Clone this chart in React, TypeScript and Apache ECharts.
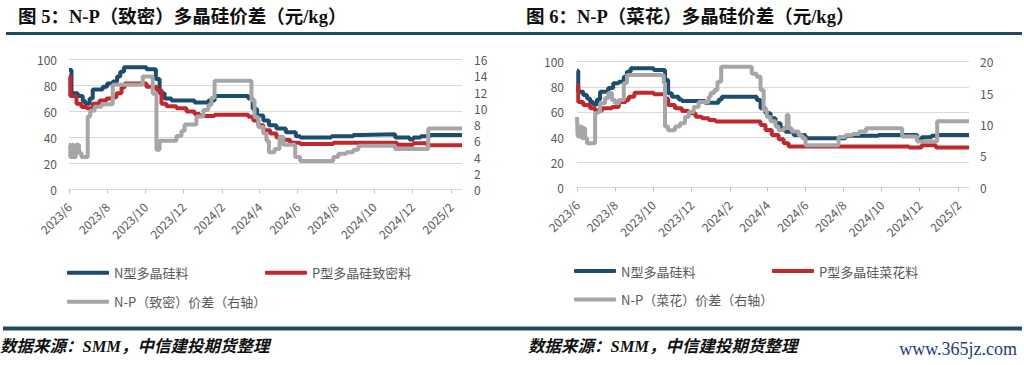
import React, { useEffect, useRef } from 'react';
import * as echarts from 'echarts';

// ---------- data ----------
const tickDates = [
  '2023-06-01', '2023-08-01', '2023-10-01', '2023-12-01', '2024-02-01', '2024-04-01',
  '2024-06-01', '2024-08-01', '2024-10-01', '2024-12-01', '2025-02-01',
];
const xStart = '2023-06-01';
const xEndLeft = '2025-02-19';
const xEndRight = '2025-02-18';

const nameN = 'N型多晶硅料';
const nameP1 = 'P型多晶硅致密料';
const nameD1 = 'N-P（致密）价差（右轴）';
const nameP2 = 'P型多晶硅菜花料';
const nameD2 = 'N-P（菜花）价差（右轴）';

const title1 = '图 5：N-P（致密）多晶硅价差（元/kg）';
const title2 = '图 6：N-P（菜花）多晶硅价差（元/kg）';
const sourceText = '数据来源：SMM，中信建投期货整理';
const siteText = 'www.365jz.com';

// Figure 5 (dense)
const leftN: [string, number][] = [
  ['2023-06-01', 92], ['2023-06-05', 74], ['2023-06-15', 72], ['2023-06-23', 68], ['2023-06-27', 66],
  ['2023-07-04', 70], ['2023-07-09', 77], ['2023-07-25', 79], ['2023-08-01', 81.5], ['2023-08-10', 83],
  ['2023-08-17', 87], ['2023-08-22', 90.5], ['2023-08-28', 94], ['2023-10-03', 92.5], ['2023-10-18', 85],
  ['2023-10-24', 74], ['2023-11-01', 70], ['2023-11-12', 68.5], ['2023-12-19', 67], ['2024-01-10', 68.5],
  ['2024-01-20', 72], ['2024-03-14', 70], ['2024-03-21', 62], ['2024-03-28', 57], ['2024-04-07', 53],
  ['2024-04-16', 49.5], ['2024-04-28', 47], ['2024-05-13', 44], ['2024-05-29', 41], ['2024-06-05', 40],
  ['2024-07-25', 41], ['2024-08-29', 42], ['2024-09-09', 42.5], ['2024-11-04', 40], ['2024-11-27', 38.5],
  ['2024-12-03', 40], ['2024-12-15', 41], ['2024-12-30', 42], ['2025-02-19', 42],
];
const leftP: [string, number][] = [
  ['2023-06-01', 87], ['2023-06-03', 72], ['2023-06-13', 66], ['2023-06-21', 63.5], ['2023-06-29', 62.5],
  ['2023-07-09', 66], ['2023-07-20', 68.5], ['2023-07-31', 70], ['2023-08-08', 71], ['2023-08-16', 74],
  ['2023-08-24', 78.5], ['2023-08-29', 81.5], ['2023-10-03', 79], ['2023-10-19', 76.5], ['2023-10-27', 66],
  ['2023-11-04', 64], ['2023-11-20', 62.5], ['2023-12-06', 60], ['2023-12-19', 58], ['2023-12-27', 56.5],
  ['2024-01-20', 57.5], ['2024-03-14', 56], ['2024-03-22', 53], ['2024-03-30', 49.5], ['2024-04-07', 45.5],
  ['2024-04-18', 43], ['2024-04-28', 40], ['2024-05-09', 38], ['2024-05-20', 36], ['2024-06-05', 35],
  ['2024-07-28', 36], ['2024-11-07', 34.5], ['2024-12-03', 35.5], ['2024-12-25', 34], ['2025-02-19', 34],
];
const leftD: [string, number][] = [
  ['2023-06-01', 5.5], ['2023-06-03', 4], ['2023-06-06', 5.5], ['2023-06-08', 4], ['2023-06-12', 5.5],
  ['2023-06-17', 4.5], ['2023-06-21', 4], ['2023-07-01', 9], ['2023-07-05', 9.7], ['2023-07-12', 10.2],
  ['2023-07-23', 10.5], ['2023-08-10', 12.9], ['2023-09-27', 13.9], ['2023-10-13', 11.8], ['2023-10-19', 4.9],
  ['2023-10-24', 6], ['2023-11-20', 6.6], ['2023-11-28', 7.2], ['2023-12-03', 8], ['2023-12-22', 9],
  ['2024-01-02', 9.8], ['2024-01-10', 10.4], ['2024-01-15', 11.3], ['2024-01-20', 13.4], ['2024-03-19', 11],
  ['2024-03-24', 8.9], ['2024-03-30', 7.7], ['2024-04-07', 6.9], ['2024-04-12', 6], ['2024-04-16', 4.6],
  ['2024-04-25', 5], ['2024-05-03', 6.5], ['2024-05-09', 5.5], ['2024-05-28', 4], ['2024-06-05', 3.5],
  ['2024-07-28', 4], ['2024-08-05', 4.4], ['2024-08-18', 4.6], ['2024-08-29', 4.9], ['2024-09-06', 5.4],
  ['2024-11-04', 5], ['2024-12-27', 7.5], ['2025-02-19', 7.5],
];

// Figure 6 (cauliflower)
const rightN: [string, number][] = [
  ['2023-06-01', 92.8], ['2023-06-03', 76], ['2023-06-11', 73.5], ['2023-06-17', 70.8], ['2023-06-22', 68],
  ['2023-06-27', 66], ['2023-07-03', 70], ['2023-07-08', 76], ['2023-07-21', 79], ['2023-07-29', 82.8],
  ['2023-08-07', 84], ['2023-08-15', 88], ['2023-08-20', 92], ['2023-08-26', 94.7], ['2023-10-02', 93.4],
  ['2023-10-20', 85.4], ['2023-10-25', 74.8], ['2023-10-31', 72], ['2023-11-11', 70], ['2023-11-16', 68.7],
  ['2023-12-23', 67.4], ['2024-01-14', 70], ['2024-01-19', 72], ['2024-03-15', 69.5], ['2024-03-21', 62.9],
  ['2024-03-29', 58.9], ['2024-04-06', 55], ['2024-04-14', 51], ['2024-04-22', 47], ['2024-04-30', 44.3],
  ['2024-05-13', 41.6], ['2024-06-01', 39], ['2024-08-04', 41], ['2024-09-26', 41.6], ['2024-11-27', 37.7],
  ['2024-12-04', 39.8], ['2024-12-20', 41], ['2024-12-31', 41.6], ['2025-02-18', 41.6],
];
const rightP: [string, number][] = [
  ['2023-06-01', 81.4], ['2023-06-03', 68], ['2023-06-11', 65.5], ['2023-06-22', 62.9], ['2023-06-30', 61],
  ['2023-07-11', 62.9], ['2023-07-27', 64], ['2023-08-07', 68], ['2023-08-18', 69.5], ['2023-08-23', 72],
  ['2023-09-01', 75.3], ['2023-10-02', 74], ['2023-10-20', 70.8], ['2023-10-25', 65.5], ['2023-11-05', 62.9],
  ['2023-11-16', 60.7], ['2023-11-27', 58.9], ['2023-12-08', 56.2], ['2023-12-18', 55], ['2023-12-29', 53.6],
  ['2024-01-09', 52.3], ['2024-03-21', 49.6], ['2024-03-29', 45.6], ['2024-04-08', 41.6], ['2024-04-19', 38.2],
  ['2024-04-27', 35], ['2024-05-05', 32.4], ['2024-11-14', 31.6], ['2024-12-04', 33.5], ['2024-12-27', 31.6],
  ['2025-02-18', 31.6],
];
const rightD: [string, number][] = [
  ['2023-06-01', 11.2], ['2023-06-02', 8.1], ['2023-06-06', 9.7], ['2023-06-09', 7.8], ['2023-06-11', 9.4],
  ['2023-06-14', 7.8], ['2023-06-17', 7], ['2023-06-30', 11.8], ['2023-07-04', 12], ['2023-07-08', 13.4],
  ['2023-07-16', 14.2], ['2023-07-21', 15], ['2023-07-27', 13.9], ['2023-08-01', 13.4], ['2023-08-07', 13.9],
  ['2023-08-15', 16.6], ['2023-08-20', 17.9], ['2023-10-18', 16.6], ['2023-10-20', 9.7], ['2023-10-25', 9.1],
  ['2023-11-05', 9.7], ['2023-11-13', 10.2], ['2023-11-21', 11.2], ['2023-11-27', 12], ['2023-12-05', 12.8],
  ['2023-12-13', 13.6], ['2023-12-29', 14.4], ['2024-01-01', 15], ['2024-01-07', 15.5], ['2024-01-12', 16.8],
  ['2024-01-18', 19.2], ['2024-03-07', 18.1], ['2024-03-15', 17.6], ['2024-03-21', 15.5], ['2024-03-26', 12.3],
  ['2024-03-31', 11.2], ['2024-04-06', 10.5], ['2024-04-14', 9.7], ['2024-04-19', 9.1], ['2024-04-27', 9.4],
  ['2024-05-02', 11.5], ['2024-05-05', 9.4], ['2024-05-10', 8.9], ['2024-05-21', 8.3], ['2024-05-27', 7.8],
  ['2024-06-01', 6.7], ['2024-07-24', 8], ['2024-08-04', 8.3], ['2024-08-15', 8.5], ['2024-08-26', 8.9],
  ['2024-09-06', 9.4], ['2024-11-03', 8.1], ['2024-11-27', 7.3], ['2024-12-29', 10.5], ['2025-02-18', 10.5],
];

// ---------- helpers ----------
function ts(s: string): number {
  const [y, m, d] = s.split('-').map(Number);
  return Date.UTC(y, m - 1, d);
}
const toXY = (arr: [string, number][]) => arr.map(([d, v]) => [ts(d), v]);

const FONT = "'Noto Sans CJK SC', 'Noto Sans', sans-serif";
const C_N = '#1b4d6e';
const C_P = '#c1272d';
const C_D = '#a6a6a6';
const C_BAR = '#1f4b5e';
const C_TXT = '#595959';

function xAxisCfg(gridIndex: number, max: string) {
  const ticks = tickDates.map(ts);
  return {
    type: 'value',
    gridIndex,
    min: ts(xStart),
    max: ts(max),
    axisLine: { show: true, lineStyle: { color: '#d9d9d9', width: 1 } },
    axisTick: { show: true, customValues: ticks, length: 4, lineStyle: { color: '#bfbfbf' } },
    splitLine: { show: false },
    axisLabel: {
      customValues: ticks,
      rotate: 45,
      margin: 15,
      color: C_TXT,
      fontSize: 12,
      fontFamily: FONT,
      formatter: (v: number) => {
        const d = new Date(v);
        return d.getUTCFullYear() + '/' + (d.getUTCMonth() + 1);
      },
    },
  };
}

function yAxisCfg(gridIndex: number, position: string, max: number, interval: number, split: boolean, margin: number) {
  return {
    type: 'value',
    gridIndex,
    position,
    min: 0,
    max,
    interval,
    axisLine: { show: false },
    axisTick: { show: false },
    splitLine: { show: split, lineStyle: { color: '#d9d9d9', width: 1 } },
    axisLabel: { color: C_TXT, fontSize: 12, fontFamily: FONT, margin },
  };
}

function lineSeries(name: string, data: [string, number][], color: string, xi: number, yi: number) {
  return {
    type: 'line',
    name,
    data: toXY(data),
    step: 'end',
    xAxisIndex: xi,
    yAxisIndex: yi,
    showSymbol: false,
    symbol: 'none',
    color,
    lineStyle: { color, width: 4 },
  };
}

function legendCfg(name: string, left: number, cy: number) {
  return {
    data: [name],
    left,
    top: cy - 8,
    padding: 0,
    itemWidth: 42,
    itemHeight: 4,
    icon: 'roundRect',
    selectedMode: false,
    textStyle: { fontSize: 13, color: C_TXT, fontFamily: FONT, lineHeight: 16 },
  };
}

export default function App() {
  const ref = useRef<HTMLDivElement>(null);
  useEffect(() => {
    document.body.style.margin = '0';
    if (!ref.current) return;
    const chart = echarts.init(ref.current, null, { renderer: 'svg' });
    chart.setOption({
      animation: false,
      backgroundColor: '#ffffff',
      grid: [
        { left: 69, top: 59.5, width: 393, height: 130 },
        { left: 577, top: 61.7, width: 392, height: 125.6 },
      ],
      xAxis: [xAxisCfg(0, xEndLeft), xAxisCfg(1, xEndRight)],
      yAxis: [
        yAxisCfg(0, 'left', 100, 20, true, 12),
        yAxisCfg(0, 'right', 16, 2, false, 12),
        yAxisCfg(1, 'left', 100, 20, true, 13),
        yAxisCfg(1, 'right', 20, 5, false, 11),
      ],
      legend: [
        legendCfg(nameN, 67, 272.7),
        legendCfg(nameP1, 265, 272.7),
        legendCfg(nameD1, 67, 301.7),
        legendCfg(nameN, 574, 271),
        legendCfg(nameP2, 772, 271),
        legendCfg(nameD2, 574, 299.5),
      ],
      series: [
        lineSeries(nameN, leftN, C_N, 0, 0),
        lineSeries(nameP1, leftP, C_P, 0, 0),
        lineSeries(nameD1, leftD, C_D, 0, 1),
        lineSeries(nameN, rightN, C_N, 1, 2),
        lineSeries(nameP2, rightP, C_P, 1, 2),
        lineSeries(nameD2, rightD, C_D, 1, 3),
      ],
      graphic: [
        {
          type: 'text', x: 18, y: 16.7,
          style: { text: title1, fill: '#111', font: "bold 18.5px 'Liberation Serif', 'Noto Sans CJK SC', serif", verticalAlign: 'middle' },
        },
        {
          type: 'text', x: 526, y: 16.7,
          style: { text: title2, fill: '#111', font: "bold 18.5px 'Liberation Serif', 'Noto Sans CJK SC', serif", verticalAlign: 'middle' },
        },
        { type: 'rect', shape: { x: 6, y: 32, width: 506, height: 3 }, style: { fill: C_BAR } },
        { type: 'rect', shape: { x: 512, y: 32, width: 510, height: 3 }, style: { fill: C_BAR } },
        { type: 'rect', shape: { x: 3, y: 326.5, width: 509, height: 4 }, style: { fill: C_BAR } },
        { type: 'rect', shape: { x: 512, y: 326.5, width: 510, height: 4 }, style: { fill: C_BAR } },
        {
          type: 'text', x: 0, y: 346.7,
          style: { text: sourceText, fill: '#111', font: "italic bold 16.5px 'Liberation Serif', 'Noto Sans CJK SC', serif", verticalAlign: 'middle' },
        },
        {
          type: 'text', x: 528, y: 346.7,
          style: { text: sourceText, fill: '#111', font: "italic bold 16.5px 'Liberation Serif', 'Noto Sans CJK SC', serif", verticalAlign: 'middle' },
        },
        {
          type: 'text', x: 1017, y: 349,
          style: { text: siteText, fill: '#1f3a78', font: "18px 'Liberation Serif', serif", align: 'right', verticalAlign: 'middle' },
        },
      ],
    });
    return () => chart.dispose();
  }, []);
  return <div ref={ref} style={{ width: 1024, height: 365 }} />;
}
